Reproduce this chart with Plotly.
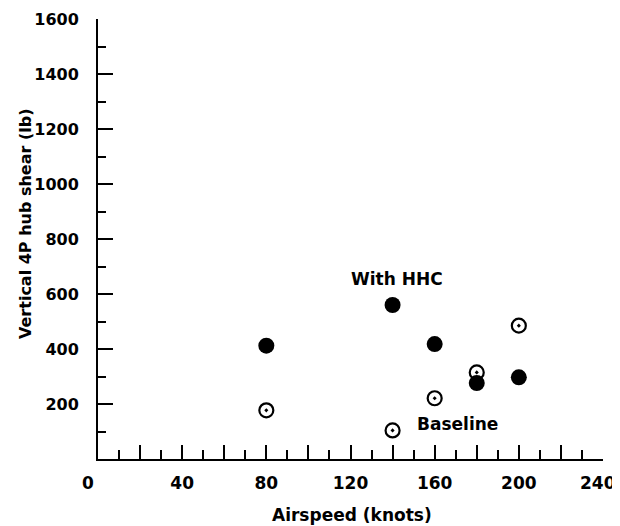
import plotly.graph_objects as go

airspeed = [80, 140, 160, 180, 200]
hhc_shear = [412, 560, 418, 276, 297]
baseline_shear = [177, 104, 221, 315, 485]

x_tick_vals = [0, 20, 40, 60, 80, 100, 120, 140, 160, 180, 200, 220, 240]
x_tick_text = ["", "", "40", "", "80", "", "120", "", "160", "", "200", "", ""]
y_tick_vals = [200, 400, 600, 800, 1000, 1200, 1400, 1600]
y_tick_text = ["200", "400", "600", "800", "1000", "1200", "1400", "1600"]

XFONT = dict(family="DejaVu Sans", size=17, color="black", weight="bold")
YFONT = dict(family="DejaVu Sans", size=16, color="black", weight="bold")
LFONT = dict(family="DejaVu Sans", size=17, color="black", weight="bold")

# the page body has an 8px margin, so the figure is 8px smaller and shifted
PLOT_W = 505
PLOT_H = 440

fig = go.Figure()
fig.add_trace(go.Scatter(
    x=airspeed, y=hhc_shear, mode="markers", name="With HHC",
    marker=dict(symbol="circle", size=16, color="black"),
))
fig.add_trace(go.Scatter(
    x=airspeed, y=baseline_shear, mode="markers", name="Baseline",
    marker=dict(symbol="circle-open-dot", size=14, color="black",
                line=dict(width=2.2, color="black")),
))

fig.add_annotation(x=142, y=653, text="With HHC", showarrow=False, font=LFONT)
fig.add_annotation(x=171, y=127, text="Baseline", showarrow=False, font=LFONT)
# corner "0" and end "240" tick labels
fig.add_annotation(xref="paper", yref="paper", x=-18 / PLOT_W, y=0, yshift=-24,
                   yanchor="middle", text="0", showarrow=False, font=XFONT)
fig.add_annotation(xref="x", yref="paper", x=240, y=0, yshift=-24, xshift=15,
                   xanchor="right", yanchor="middle", text="240", showarrow=False, font=XFONT)
# axis titles
fig.add_annotation(xref="paper", yref="paper", x=(352 - 98) / PLOT_W, y=0, yshift=-56,
                   yanchor="middle", text="Airspeed (knots)", showarrow=False, font=XFONT)
fig.add_annotation(xref="paper", yref="paper", x=(25 - 98) / PLOT_W, y=(459 - 224) / PLOT_H,
                   xanchor="center", yanchor="middle", textangle=-90,
                   text="Vertical 4P hub shear (lb)", showarrow=False, font=YFONT)

fig.update_layout(
    width=612, height=518,
    margin=dict(l=90, r=17, t=11, b=67),
    paper_bgcolor="white", plot_bgcolor="white",
    showlegend=False,
    font=XFONT,
    xaxis=dict(
        range=[0, 240], showgrid=False, zeroline=False, automargin=False,
        showline=True, linecolor="black", linewidth=2,
        tickmode="array", tickvals=x_tick_vals, ticktext=x_tick_text,
        ticks="inside", ticklen=14, tickwidth=2, tickcolor="black",
        ticklabelstandoff=8,
        minor=dict(dtick=10, tick0=0, ticks="inside", ticklen=9, tickwidth=2, tickcolor="black"),
        tickfont=XFONT,
    ),
    yaxis=dict(
        range=[0, 1600], showgrid=False, zeroline=False, automargin=False,
        showline=True, linecolor="black", linewidth=2,
        tickmode="array", tickvals=y_tick_vals, ticktext=y_tick_text,
        ticks="inside", ticklen=15, tickwidth=2, tickcolor="black",
        ticklabelstandoff=14,
        minor=dict(dtick=100, tick0=0, ticks="inside", ticklen=8, tickwidth=2, tickcolor="black"),
        tickfont=YFONT,
    ),
)

fig.write_html("out.html")
